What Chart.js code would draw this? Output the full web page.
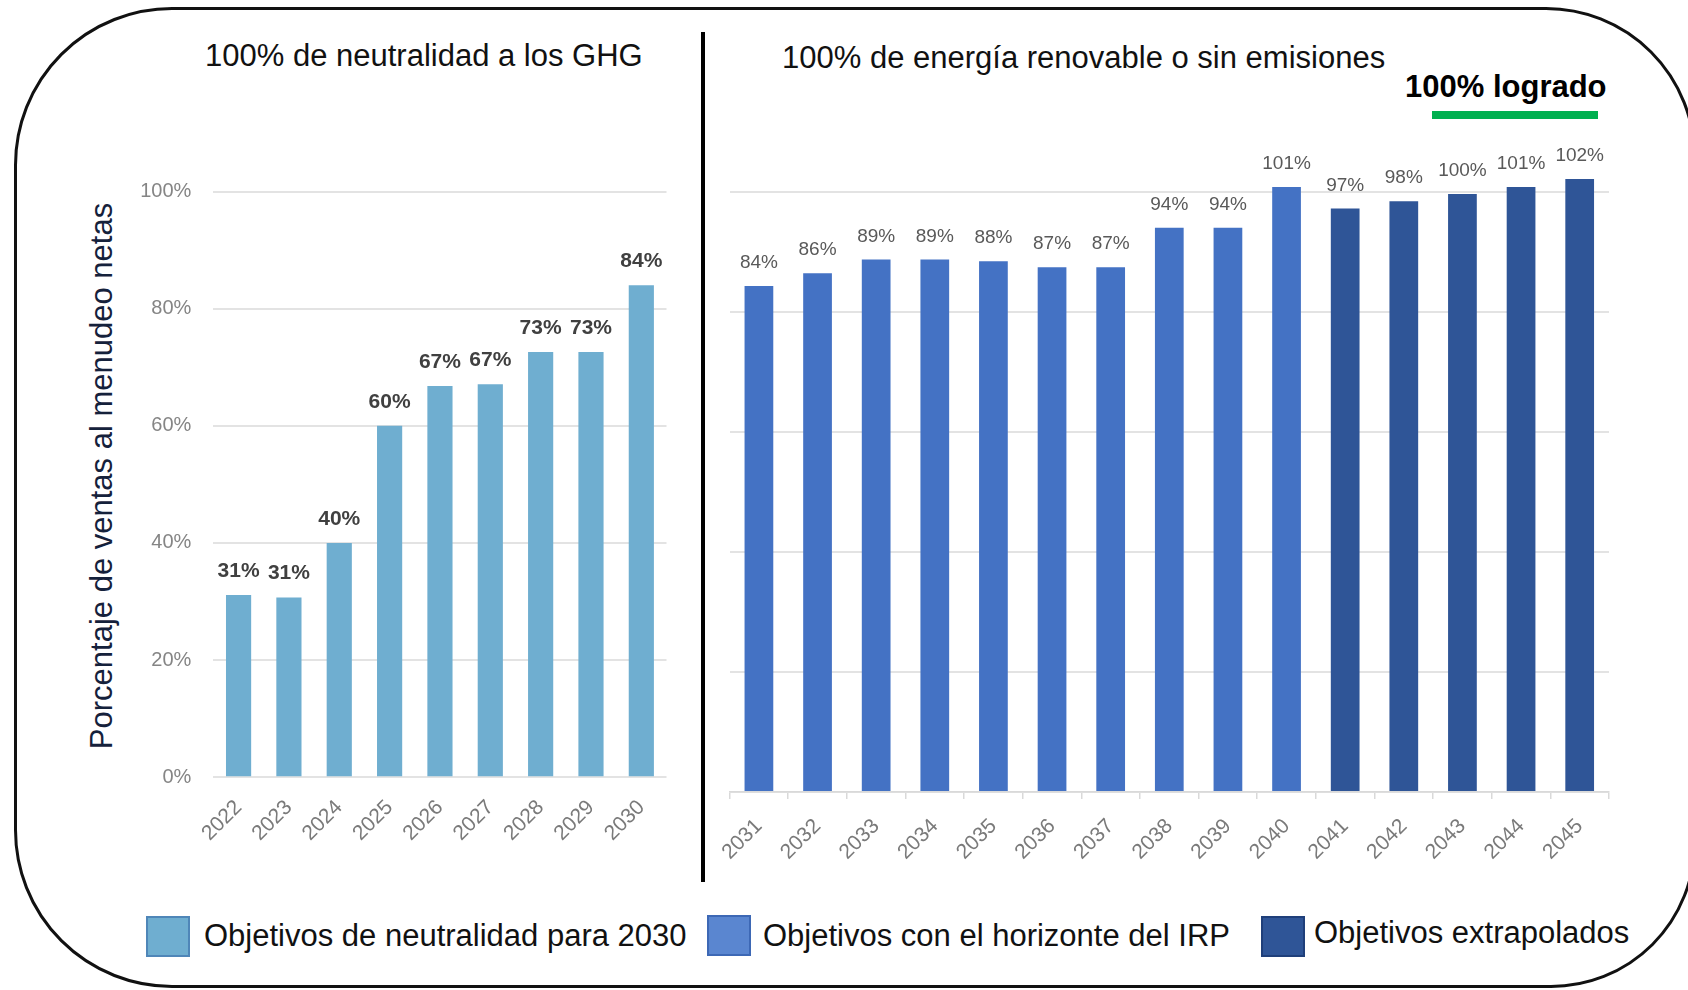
<!DOCTYPE html>
<html>
<head>
<meta charset="utf-8">
<script src="https://cdn.jsdelivr.net/npm/chart.js@4.4.1/dist/chart.umd.min.js"></script>
<style>
html,body{margin:0;padding:0;width:1688px;height:990px;overflow:hidden;background:#fff;}
body{position:relative;font-family:"Liberation Sans",Arial,sans-serif;}
canvas{position:absolute;left:0;top:0;}
#frame{position:absolute;left:14px;top:7px;width:1682px;height:981px;box-sizing:border-box;border:3px solid #111;border-radius:158px 150px 145px 158px;}
#divider{position:absolute;left:701px;top:32px;width:4px;height:850px;background:#000;}
.t{position:absolute;white-space:nowrap;font-size:31px;line-height:31px;color:#111;}
.sw{position:absolute;width:44px;height:41px;box-sizing:border-box;border:2px solid;}
#goal{position:absolute;left:1432px;top:111px;width:166px;height:8px;background:#00B050;}
#ytitle{position:absolute;left:101px;top:476px;transform:translate(-50%,-50%) rotate(-90deg);color:#15213b;}
</style>
</head>
<body>
<div id="frame"></div>
<div id="divider"></div>
<div class="t" style="left:205px;top:39.5px;">100% de neutralidad a los GHG</div>
<div class="t" style="left:782px;top:42px;">100% de energía renovable o sin emisiones</div>
<div class="t" style="left:1405px;top:70.5px;font-weight:bold;color:#000;">100% logrado</div>
<div id="goal"></div>
<div class="t" id="ytitle"></div>

<div class="sw" style="left:146px;top:916px;background:#6FAED0;border-color:#4f86b8;"></div>
<div class="t" style="left:204px;top:919.6px;">Objetivos de neutralidad para 2030</div>
<div class="sw" style="left:707px;top:914.5px;background:#5A86D0;border-color:#3d68b5;"></div>
<div class="t" style="left:763px;top:919.7px;">Objetivos con el horizonte del IRP</div>
<div class="sw" style="left:1261px;top:916px;background:#2F5597;border-color:#1f3f7a;"></div>
<div class="t" style="left:1314px;top:917px;">Objetivos extrapolados</div>

<canvas id="c1" width="1688" height="990"></canvas>
<canvas id="c2" width="1688" height="990"></canvas>

<script>
// ---- data ----
const ghgYears = ['2022','2023','2024','2025','2026','2027','2028','2029','2030'];
const ghgTargets = [31.1, 30.7, 40.0, 60.0, 66.8, 67.1, 72.6, 72.6, 84.0];

const cleanYears = ['2031','2032','2033','2034','2035','2036','2037','2038','2039','2040','2041','2042','2043','2044','2045'];
const irpTargets = [84.3, 86.4, 88.7, 88.7, 88.4, 87.4, 87.4, 94.0, 94.0, 100.8];
const extrapolatedTargets = [97.2, 98.4, 99.6, 100.8, 102.1];

const yTickLabels = ['0%', '20%', '40%', '60%', '80%', '100%'];
const yAxisTitle = 'Porcentaje de ventas al menudeo netas';
const seriesNames = ['Objetivos de neutralidad para 2030', 'Objetivos con el horizonte del IRP', 'Objetivos extrapolados'];

document.getElementById('ytitle').textContent = yAxisTitle;

// ---- helpers ----
const FONT = '"Liberation Sans", Arial, sans-serif';

const valueLabels = {
  id: 'valueLabels',
  afterDatasetsDraw(chart, args, opts) {
    const ctx = chart.ctx;
    ctx.save();
    ctx.font = opts.font;
    ctx.fillStyle = opts.color;
    ctx.textAlign = 'center';
    ctx.textBaseline = 'alphabetic';
    chart.data.datasets.forEach((ds, i) => {
      const meta = chart.getDatasetMeta(i);
      meta.data.forEach((bar, j) => {
        const v = ds.data[j];
        if (v === null || v === undefined) return;
        ctx.fillText(Math.round(v) + '%', bar.x, bar.y - opts.offset);
      });
    });
    ctx.restore();
  }
};

// ---- left chart ----
new Chart(document.getElementById('c1'), {
  type: 'bar',
  data: {
    labels: ghgYears,
    datasets: [{
      label: seriesNames[0],
      data: ghgTargets,
      backgroundColor: '#6FAED0',
      barPercentage: 0.5,
      categoryPercentage: 1.0
    }]
  },
  plugins: [valueLabels],
  options: {
    responsive: false,
    animation: false,
    layout: { padding: { left: 70, top: 191.6, right: 1021.5, bottom: 132.8 } },
    plugins: {
      legend: { display: false },
      tooltip: { enabled: false },
      valueLabels: { font: 'bold 21px ' + FONT, color: '#404040', offset: 18 }
    },
    scales: {
      x: {
        grid: { display: false, drawTicks: false },
        border: { display: false },
        ticks: { autoSkip: false, minRotation: 45, maxRotation: 45, padding: 18,
                 color: '#7a7a7a', font: { family: FONT, size: 21 } },
        afterFit(s) { s.height = 80; }
      },
      y: {
        min: 0, max: 100,
        grid: { color: '#e3e3e3', lineWidth: 2, drawTicks: false },
        border: { display: false },
        ticks: { stepSize: 20, padding: 22, color: '#858585', font: { family: FONT, size: 20 },
                 callback: (v) => yTickLabels[Math.round(v / 20)] },
        afterFit(s) { s.width = 143.4; }
      }
    }
  }
});

// ---- right chart ----
const irpData = cleanYears.map((y, i) => i < irpTargets.length ? irpTargets[i] : null);
const extData = cleanYears.map((y, i) => i >= irpTargets.length ? extrapolatedTargets[i - irpTargets.length] : null);

new Chart(document.getElementById('c2'), {
  type: 'bar',
  data: {
    labels: cleanYears,
    datasets: [
      { label: seriesNames[1], data: irpData, backgroundColor: '#4472C4', grouped: false,
        barPercentage: 0.49, categoryPercentage: 1.0 },
      { label: seriesNames[2], data: extData, backgroundColor: '#2F5597', grouped: false,
        barPercentage: 0.49, categoryPercentage: 1.0 }
    ]
  },
  plugins: [valueLabels],
  options: {
    responsive: false,
    animation: false,
    layout: { padding: { left: 729.6, top: 161.7, right: 79, bottom: 118 } },
    plugins: {
      legend: { display: false },
      tooltip: { enabled: false },
      valueLabels: { font: '19px ' + FONT, color: '#595959', offset: 18 }
    },
    scales: {
      x: {
        grid: { display: true, drawOnChartArea: false, drawTicks: true, tickLength: 7,
                color: '#d9d9d9', lineWidth: 1.5 },
        border: { display: true, color: '#d9d9d9', width: 1.5 },
        ticks: { autoSkip: false, minRotation: 45, maxRotation: 45, padding: 15,
                 color: '#7a7a7a', font: { family: FONT, size: 21 } },
        afterFit(s) { s.height = 80; }
      },
      y: {
        min: 0, max: 105,
        grid: { color: '#e3e3e3', lineWidth: 2, drawTicks: false },
        border: { display: false },
        ticks: { display: false, stepSize: 20, includeBounds: false },
        afterFit(s) { s.width = 0; }
      }
    }
  }
});
</script>
</body>
</html>
